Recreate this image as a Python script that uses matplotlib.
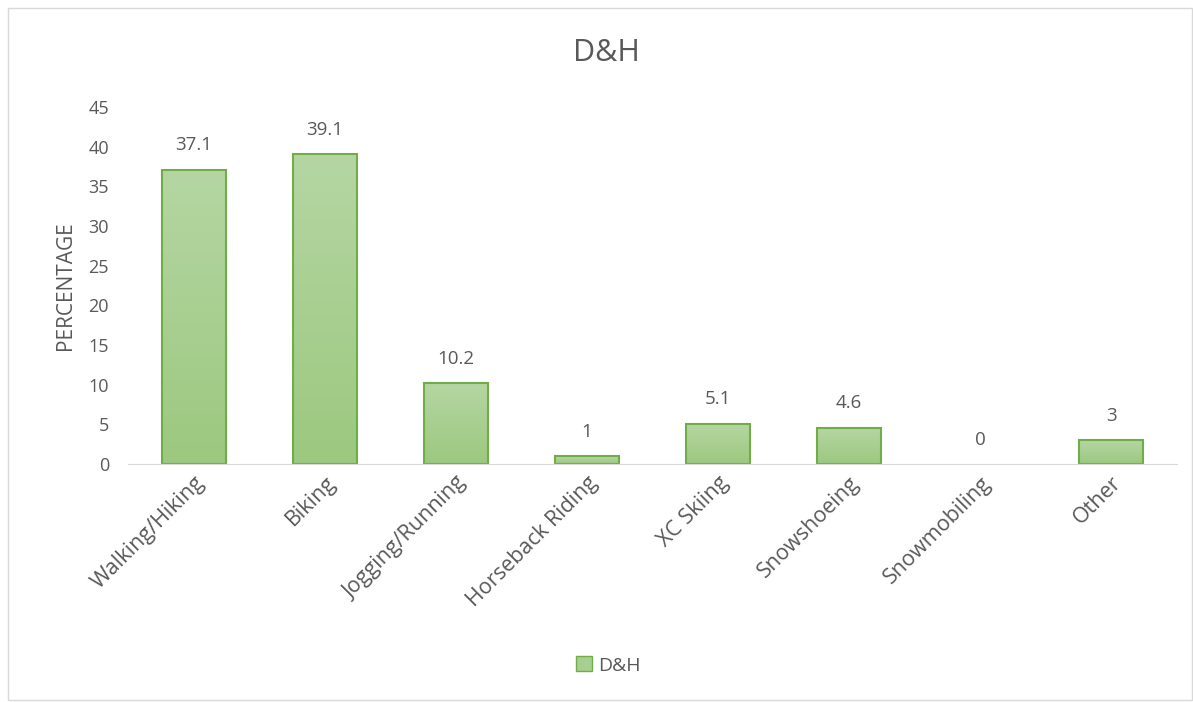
import numpy as np
import matplotlib.pyplot as plt
from matplotlib.patches import Rectangle
from matplotlib.colors import LinearSegmentedColormap

categories = ["Walking/Hiking", "Biking", "Jogging/Running", "Horseback Riding",
              "XC Skiing", "Snowshoeing", "Snowmobiling", "Other"]
values = [37.1, 39.1, 10.2, 1, 5.1, 4.6, 0, 3]
labels = ["37.1", "39.1", "10.2", "1", "5.1", "4.6", "0", "3"]
yticks = [0, 5, 10, 15, 20, 25, 30, 35, 40, 45]

plt.rcParams['font.family'] = ['Open Sans', 'DejaVu Sans']
txt = '#595959'

fig = plt.figure(figsize=(11.93, 7.02), dpi=100)
# outer chart frame
fig.patches.append(Rectangle((8 / 1193, 2 / 702), 1184 / 1193, 692 / 702,
                             transform=fig.transFigure, fill=False,
                             edgecolor='#d9d9d9', linewidth=1))
ax = fig.add_axes([0.1077, 0.339, 0.8785, 0.5086])

x = np.arange(len(categories))
edges = ['#70ad47' if v > 0 else 'none' for v in values]
bars = ax.bar(x, values, width=0.49, color='none', edgecolor=edges,
              linewidth=1.5, zorder=3)

# vertical gradient fill for each bar
grad = np.linspace(0, 1, 256).reshape(-1, 1)
cmap = LinearSegmentedColormap.from_list('g', ['#9cc87f', '#b5d6a3'])
for b in bars:
    if b.get_height() <= 0:
        continue
    im = ax.imshow(grad, cmap=cmap, aspect='auto', origin='lower',
                   extent=(b.get_x(), b.get_x() + b.get_width(), 0, b.get_height()),
                   zorder=2)
    im.set_clip_path(b)

for xi, v, lab in zip(x, values, labels):
    ax.annotate(lab, (xi, v), xytext=(0, 11), textcoords='offset points',
                ha='center', va='bottom', fontsize=13.5, color=txt)

ax.set_xlim(-0.5, len(categories) - 0.5)
ax.set_ylim(0, 45)
ax.set_yticks(yticks)
ax.tick_params(axis='y', length=0, labelsize=13, labelcolor=txt, pad=14)
ax.tick_params(axis='x', length=0, labelsize=15.5, labelcolor=txt, pad=6)
ax.set_xticks(x)
ax.set_xticklabels(categories, rotation=45, ha='right', rotation_mode='anchor')
for s in ['top', 'right', 'left']:
    ax.spines[s].set_visible(False)
ax.spines['bottom'].set_color('#d9d9d9')
ax.spines['bottom'].set_zorder(4)
ax.set_ylabel('PERCENTAGE', fontsize=15, color=txt, labelpad=9)
fig.text(0.508, 0.925, 'D&H', fontsize=22, color=txt, ha='center', va='center')

fig.legend(handles=[Rectangle((0, 0), 1, 1, facecolor='#a8cf92', edgecolor='#70ad47')],
           labels=['D&H'], loc='center', bbox_to_anchor=(0.51, 0.052),
           frameon=False, fontsize=14, labelcolor=txt, handlelength=0.8,
           handleheight=0.8, handletextpad=0.3)

fig.savefig('out.png', dpi=100)
